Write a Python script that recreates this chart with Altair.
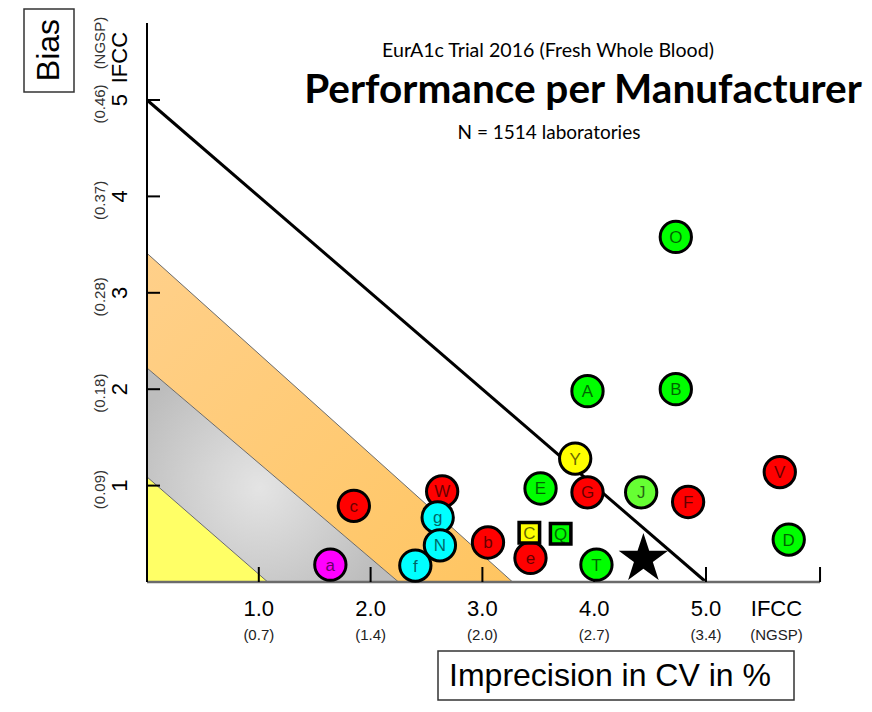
import altair as alt
import pandas as pd

# ---------------- data ----------------
mfr_labels = ["O", "A", "B", "Y", "V", "E", "G", "J", "F", "D", "T",
              "c", "W", "g", "N", "f", "a", "b", "e", "C", "Q"]
mfr_cv = [4.73, 3.94, 4.73, 3.83, 5.66, 3.52, 3.94, 4.42, 4.84, 5.74, 4.02,
          1.85, 2.64, 2.60, 2.62, 2.40, 1.64, 3.05, 3.43, 3.42, 3.70]
mfr_bias = [3.58, 1.98, 2.00, 1.28, 1.14, 0.97, 0.93, 0.93, 0.83, 0.44, 0.18,
            0.79, 0.94, 0.67, 0.38, 0.17, 0.18, 0.41, 0.25, 0.51, 0.50]
mfr_fill = ["#00ff00", "#00ff00", "#00ff00", "#ffff00", "#ff0000", "#00ff00",
            "#ff0000", "#66ff33", "#ff0000", "#00ff00", "#00ff00",
            "#ff0000", "#ff0000", "#00ffff", "#00ffff", "#00ffff", "#ff00ff",
            "#ff0000", "#ff0000", "#ffff00", "#00ff00"]
mfr_shape = ["circle"] * 19 + ["square", "square"]

star_cv = [4.44]
star_bias = [0.24]

band_names = ["yellow", "gray", "orange"]
band_x_int = [1.08, 2.25, 3.27]
band_y_int = [1.09, 2.22, 3.41]
limit_x_int, limit_y_int = 5.0, 5.0

y_ticks = [1, 2, 3, 4, 5]
y_ngsp = ["(0.09)", "(0.18)", "(0.28)", "(0.37)", "(0.46)"]
x_ticks = [1, 2, 3, 4, 5]
x_ticklabels = ["1.0", "2.0", "3.0", "4.0", "5.0"]
x_ngsp = ["(0.7)", "(1.4)", "(2.0)", "(2.7)", "(3.4)"]
x_axis_end = 6.02
y_axis_end = 5.80

title1 = "EurA1c Trial 2016 (Fresh Whole Blood)"
title2 = "Performance per Manufacturer"
title3 = "N = 1514 laboratories"
x_title = "Imprecision in CV in %"
y_title = "Bias"

# ---------------- geometry ----------------
W, H = 856, 696
X0, PXX = 139.0, 111.8   # chart px of CV = 0, px per CV unit
Y0, PXY = 574.0, 96.4    # chart px of bias = 0, px per bias unit
XMIN, XMAX = -X0 / PXX, (W - X0) / PXX
YMIN, YMAX = -(H - Y0) / PXY, Y0 / PXY
xs = alt.Scale(domain=[XMIN, XMAX], nice=False, zero=False)
ys = alt.Scale(domain=[YMIN, YMAX], nice=False, zero=False)
FONT = "Liberation Sans"
TFONT = "Lato"


def X(field="x"):
    return alt.X(f"{field}:Q", scale=xs, axis=None)


def Y(field="y"):
    return alt.Y(f"{field}:Q", scale=ys, axis=None)


layers = []

# ---------------- bands ----------------
band_fill = {
    "yellow": "#ffff66",
    "gray": alt.Gradient(gradient="radial",
                         stops=[alt.GradientStop(color="#e4e4e4", offset=0),
                                alt.GradientStop(color="#bdbdbd", offset=1)],
                         x1=0.45, y1=0.55, x2=0.45, y2=0.55, r1=0, r2=0.55),
    "orange": alt.Gradient(gradient="linear",
                           stops=[alt.GradientStop(color="#ffd08a", offset=0),
                                  alt.GradientStop(color="#ffc561", offset=1)],
                           x1=0, y1=0, x2=1, y2=1),
}
prev = None
edge_rows = []
for name, xo, yo in zip(band_names, band_x_int, band_y_int):
    if prev is None:
        rows = [(0, yo, 0), (xo, 0, 0)]
    else:
        xi, yi = prev
        rows = [(0, yo, yi), (xi, yo * (1 - xi / xo), 0), (xo, 0, 0)]
    df = pd.DataFrame(rows, columns=["x", "y", "y2"])
    layers.append(alt.Chart(df).mark_area(color=band_fill[name], opacity=1).encode(
        x=X(), y=Y(), y2="y2:Q"))
    edge_rows += [(name, 0, yo, 0), (name, xo, 0, 1)]
    prev = (xo, yo)
edges = pd.DataFrame(edge_rows, columns=["band", "x", "y", "o"])
layers.append(alt.Chart(edges).mark_line(color="#6a6a6a", strokeWidth=1).encode(
    x=X(), y=Y(), detail="band:N", order="o:Q"))

# ---------------- limit line ----------------
lim = pd.DataFrame({"x": [0, limit_x_int], "y": [limit_y_int, 0]})
layers.append(alt.Chart(lim).mark_line(color="black", strokeWidth=3).encode(x=X(), y=Y()))

# ---------------- axes ----------------
xaxis = pd.DataFrame({"x": [0], "x2": [x_axis_end], "y": [0]})
layers.append(alt.Chart(xaxis).mark_rule(color="#6b6b6b", strokeWidth=2.5).encode(
    x=X(), x2="x2:Q", y=Y()))
yaxis = pd.DataFrame({"x": [0], "y": [0], "y2": [y_axis_end]})
layers.append(alt.Chart(yaxis).mark_rule(color="black", strokeWidth=2).encode(
    x=X(), y=Y(), y2="y2:Q"))
xt = pd.DataFrame({"x": x_ticks + [x_axis_end]})
xt["y"] = 0
xt["y2"] = 15 / PXY
layers.append(alt.Chart(xt).mark_rule(color="black", strokeWidth=2).encode(
    x=X(), y=Y(), y2="y2:Q"))
yt = pd.DataFrame({"y": y_ticks})
yt["x"] = 0
yt["x2"] = 13 / PXX
layers.append(alt.Chart(yt).mark_rule(color="black", strokeWidth=2).encode(
    x=X(), x2="x2:Q", y=Y()))

# x tick labels
xl = pd.DataFrame({"x": x_ticks + [5.63], "t": x_ticklabels + ["IFCC"],
                   "n": x_ngsp + ["(NGSP)"]})
xl["y"] = -27 / PXY
xl["yn"] = -53 / PXY
layers.append(alt.Chart(xl).mark_text(font=FONT, fontSize=22, color="black",
                                      baseline="middle", align="center").encode(
    x=X(), y=Y(), text="t:N"))
layers.append(alt.Chart(xl).mark_text(font=FONT, fontSize=15, color="#222222",
                                      baseline="middle", align="center").encode(
    x=X(), y=Y("yn"), text="n:N"))

# y tick labels (rotated)
yl = pd.DataFrame({"y": y_ticks + [5.44], "t": [str(v) for v in y_ticks] + ["IFCC"]})
yl["x"] = -27 / PXX
layers.append(alt.Chart(yl).mark_text(font=FONT, fontSize=22, color="black", angle=270,
                                      baseline="middle", align="center").encode(
    x=X(), y=Y(), text="t:N"))
yn = pd.DataFrame({"y": [v - 4 / PXY for v in y_ticks] + [5.59], "t": y_ngsp + ["(NGSP)"]})
yn["x"] = -47 / PXX
layers.append(alt.Chart(yn).mark_text(font=FONT, fontSize=15, color="#333333", angle=270,
                                      baseline="middle", align="center").encode(
    x=X(), y=Y(), text="t:N"))

# ---------------- manufacturers ----------------
pts = pd.DataFrame({"x": mfr_cv, "y": mfr_bias, "lab": mfr_labels,
                    "fill": mfr_fill, "shape": mfr_shape})
circ = pts[pts["shape"] == "circle"]
sq = pts[pts["shape"] == "square"]
layers.append(alt.Chart(circ).mark_point(shape="circle", filled=True, size=980,
                                         stroke="black", strokeWidth=3, opacity=1).encode(
    x=X(), y=Y(), fill=alt.Fill("fill:N", scale=None)))
layers.append(alt.Chart(sq).mark_point(shape="square", filled=True, size=420,
                                       stroke="black", strokeWidth=3.5, opacity=1).encode(
    x=X(), y=Y(), fill=alt.Fill("fill:N", scale=None)))
layers.append(alt.Chart(pts).mark_text(font=FONT, fontSize=17, color="black", opacity=0.6,
                                       baseline="middle", align="center", dy=1).encode(
    x=X(), y=Y(), text="lab:N"))

STAR = ("M0,-1 L0.2245,-0.309 L0.9511,-0.309 L0.3633,0.118 L0.5878,0.809 "
        "L0,0.382 L-0.5878,0.809 L-0.3633,0.118 L-0.9511,-0.309 L-0.2245,-0.309 Z")
star = pd.DataFrame({"x": star_cv, "y": star_bias})
layers.append(alt.Chart(star).mark_point(shape=STAR, filled=True, color="black",
                                         size=2700, opacity=1).encode(x=X(), y=Y()))

# ---------------- titles & boxed axis titles ----------------
one = pd.DataFrame({"t": [0]})


def ptext(s, px, py, **kw):
    return alt.Chart(pd.DataFrame({"t": [s]})).mark_text(
        baseline="middle", align="center", color="black", **kw).encode(
        x=alt.value(px), y=alt.value(py), text="t:N")


def pbox(x1, x2, y1, y2):
    return alt.Chart(one).mark_rect(fill="white", stroke="#333333", strokeWidth=1.5).encode(
        x=alt.value(x1), x2=alt.value(x2), y=alt.value(y1), y2=alt.value(y2))


layers.append(ptext(title1, 540, 43, font=TFONT, fontSize=19.6))
layers.append(ptext(title2, 575, 83, font=TFONT, fontSize=40.5, fontWeight="bold"))
layers.append(ptext(title3, 541, 125, font=TFONT, fontSize=19))
layers.append(pbox(16, 66, 1, 84))
layers.append(ptext(y_title, 41, 42, font=FONT, fontSize=32, angle=270))
layers.append(pbox(430, 786, 643, 692))
layers.append(ptext(x_title, 602, 668, font=FONT, fontSize=32))

chart = alt.layer(*layers).properties(
    width=W, height=H, padding=0,
    autosize=alt.AutoSizeParams(type="none"), background="white"
).configure_view(strokeWidth=0)

chart.save("out.html", embed_options={"renderer": "svg", "actions": False})
